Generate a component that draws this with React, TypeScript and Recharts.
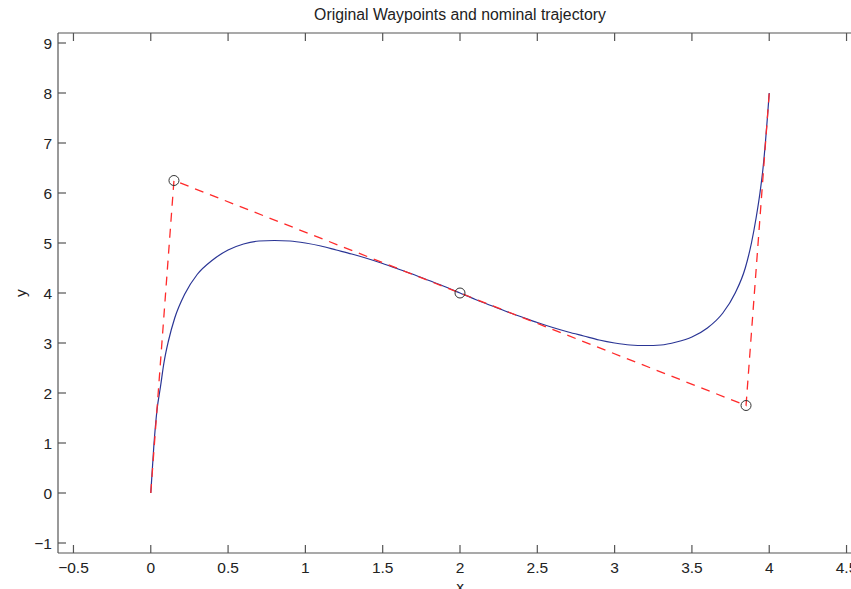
import React from 'react'
import { ComposedChart, Line, Scatter, XAxis, YAxis } from 'recharts'

const trajX = [
  0, 0.02, 0.04, 0.063, 0.085, 0.115, 0.155, 0.22, 0.3, 0.4, 0.5, 0.6, 0.7, 0.8,
  0.9, 1.0, 1.1, 1.2, 1.3, 1.4, 1.5, 1.6, 1.7, 1.8, 1.9, 2.0, 2.1, 2.2, 2.3, 2.4,
  2.5, 2.6, 2.7, 2.8, 2.9, 3.0, 3.1, 3.2, 3.3, 3.4, 3.5, 3.6, 3.7, 3.78, 3.845,
  3.885, 3.915, 3.94, 3.96, 3.975, 3.988, 4.0,
]
const trajY = [
  0, 0.95, 1.65, 2.13, 2.6, 3.05, 3.5, 3.98, 4.37, 4.66, 4.86, 4.98, 5.04, 5.05,
  5.04, 5.0, 4.94, 4.86, 4.78, 4.69, 4.59, 4.48, 4.37, 4.25, 4.13, 4.0, 3.87, 3.75,
  3.63, 3.52, 3.41, 3.31, 3.22, 3.14, 3.06, 3.0, 2.96, 2.95, 2.96, 3.02, 3.12, 3.3,
  3.6, 4.0, 4.5, 5.0, 5.5, 6.0, 6.5, 7.0, 7.5, 8.0,
]

const wpX = [0, 0.15, 2, 3.85, 4]
const wpY = [0, 6.25, 4, 1.75, 8]
// waypoints marked with circles
const markIdx = [1, 2, 3]

const xTicks = [-0.5, 0, 0.5, 1, 1.5, 2, 2.5, 3, 3.5, 4, 4.5]
const yTicks = [-1, 0, 1, 2, 3, 4, 5, 6, 7, 8, 9]

const trajData = trajX.map((x, i) => ({ x, y: trajY[i] }))
const wpData = wpX.map((x, i) => ({ x, y: wpY[i] }))
const markData = markIdx.map((i) => ({ x: wpX[i], y: wpY[i] }))

const axisColor = '#555'
const textColor = '#222'
const fontFamily = '"Liberation Sans", Arial, sans-serif'
const fontSize = 15.5

const fmt = (v: number) => (v < 0 ? '\u2212' + String(-v) : String(v))

const BottomTick = (props: any) => {
  const { x, y, payload } = props
  return (
    <g>
      <line x1={x} y1={y} x2={x} y2={y - 8} stroke={axisColor} strokeWidth={1.2} />
      <text x={x} y={y + 20} textAnchor="middle" fill={textColor} fontSize={fontSize} fontFamily={fontFamily}>
        {fmt(payload.value)}
      </text>
    </g>
  )
}

const TopTick = (props: any) => {
  const { x, y } = props
  return <line x1={x} y1={y} x2={x} y2={y + 8} stroke={axisColor} strokeWidth={1.2} />
}

const LeftTick = (props: any) => {
  const { x, y, payload } = props
  return (
    <g>
      <line x1={x} y1={y} x2={x + 8} y2={y} stroke={axisColor} strokeWidth={1.2} />
      <text x={x - 6} y={y + 5.5} textAnchor="end" fill={textColor} fontSize={fontSize} fontFamily={fontFamily}>
        {fmt(payload.value)}
      </text>
    </g>
  )
}

const Ring = (props: any) => {
  const { cx, cy } = props
  return <circle cx={cx} cy={cy} r={5} fill="none" stroke="#333" strokeWidth={1} />
}

export default function App() {
  return (
    <div
      style={{
        position: 'absolute',
        left: 0,
        top: 0,
        width: 851,
        height: 589,
        overflow: 'hidden',
        background: '#fff',
        fontFamily,
      }}
    >
      <ComposedChart width={870} height={589} margin={{ top: 32, right: 8, bottom: 6, left: 0 }}>
        <XAxis
          dataKey="x"
          type="number"
          domain={[-0.6, 4.6]}
          ticks={xTicks}
          interval={0}
          height={30}
          stroke={axisColor}
          strokeWidth={1.2}
          tickSize={0}
          tickMargin={0}
          tickLine={false}
          tick={BottomTick}
          allowDataOverflow
        />
        <XAxis
          xAxisId="top"
          dataKey="x"
          orientation="top"
          type="number"
          domain={[-0.6, 4.6]}
          ticks={xTicks}
          interval={0}
          height={1}
          stroke={axisColor}
          strokeWidth={1.2}
          tickSize={0}
          tickMargin={0}
          tickLine={false}
          tick={TopTick}
          allowDataOverflow
        />
        <YAxis
          dataKey="y"
          type="number"
          domain={[-1.2, 9.2]}
          ticks={yTicks}
          interval={0}
          width={58}
          stroke={axisColor}
          strokeWidth={1.2}
          tickSize={0}
          tickMargin={0}
          tickLine={false}
          tick={LeftTick}
          allowDataOverflow
        />
        <Line
          data={trajData}
          dataKey="y"
          type="monotone"
          stroke="#2a3595"
          strokeWidth={1.2}
          dot={false}
          activeDot={false}
          isAnimationActive={false}
        />
        <Line
          data={wpData}
          dataKey="y"
          type="linear"
          stroke="#ff2a2a"
          strokeWidth={1.3}
          strokeDasharray="9 7"
          dot={false}
          activeDot={false}
          isAnimationActive={false}
        />
        <Scatter
          xAxisId="top"
          data={markData}
          dataKey="y"
          shape={Ring}
          isAnimationActive={false}
        />
      </ComposedChart>
      <div
        style={{
          position: 'absolute',
          left: 210,
          width: 500,
          top: 6,
          textAlign: 'center',
          fontSize: 15.8,
          color: textColor,
        }}
      >
        Original Waypoints and nominal trajectory
      </div>
      <div
        style={{
          position: 'absolute',
          left: 12,
          top: 284,
          width: 18,
          height: 18,
          fontSize,
          lineHeight: '18px',
          color: textColor,
          textAlign: 'center',
          transform: 'rotate(-90deg)',
        }}
      >
        y
      </div>
      <div
        style={{
          position: 'absolute',
          left: 450,
          width: 20,
          top: 578,
          textAlign: 'center',
          fontSize,
          color: textColor,
        }}
      >
        x
      </div>
    </div>
  )
}
